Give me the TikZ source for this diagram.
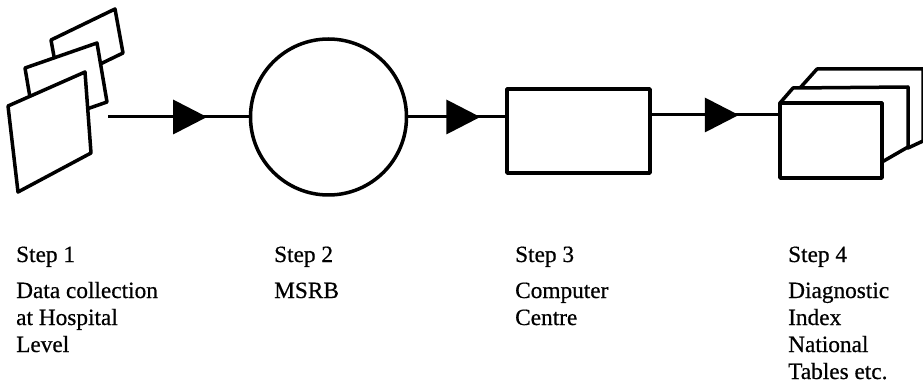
\documentclass[tikz,border=0pt]{standalone}
\usepackage{fontspec}
\setmainfont{Liberation Serif}[FakeBold=0.6]
\usetikzlibrary{decorations.markings}
% a block of lines 27pt apart, its baseline on the first line
\newcommand{\linesblock}[1]{\vtop{\baselineskip=27pt\lineskiplimit=-10pt #1}}
\begin{document}
\begin{tikzpicture}[x=1pt,y=-1pt,
  ink/.style={line width=3.5pt, line join=round},
  link/.style={line width=3pt,
    decoration={markings, mark=at position #1 with
      {\fill (-34pt,-17.5pt) -- (0pt,0pt) -- (-34pt,17.5pt) -- cycle;}},
    postaction={decorate}},
  lbl/.style={anchor=base west, inner sep=0pt, font=\fontsize{23.3}{27}\selectfont}]
\useasboundingbox (0,0) rectangle (923,382);

% step 1: stack of forms
\draw[ink, fill=white] (51,40) -- (115,9) -- (123,53) -- (59,84) -- cycle;
\draw[ink, fill=white] (25,68) -- (97,43) -- (107,102) -- (35,127) -- cycle;
\draw[ink, fill=white] (8,106) -- (85,72) -- (91,153) -- (18,192) -- cycle;
\coordinate (src) at (108,117);

% step 2: MSRB
\node[ink, draw, circle, minimum size=156pt, inner sep=0pt] (msrb) at (328.5,117) {};

% step 3: computer centre
\node[ink, draw, rectangle, minimum width=143pt, minimum height=84pt, inner sep=0pt]
  (cc) at (578.5,131) {};

% step 4: stack of output tables
\draw[ink, fill=white] (800,88) -- (817,69) -- (923,69) -- (923,141) -- (908,148) -- (908,88) -- cycle;
\draw[ink, fill=white] (780,103) -- (793,88) -- (908,87) -- (908,147) -- (882,162) -- (882,103) -- cycle;
\node[ink, draw, fill=white, rectangle, minimum width=102pt, minimum height=75pt, inner sep=0pt]
  (out) at (831,140.5) {};

% flow
\draw[link=99pt] (src) -- (msrb.west);
\draw[link=72pt] (msrb.east) -- ([yshift=14pt]cc.west);
\draw[link=87pt] ([yshift=16pt]cc.east) -- ([yshift=25.5pt]out.west);

% labels
\node[lbl] (s1) at (16,262) {Step 1};
\node[lbl] (d1) at (16,298) {\linesblock{\hbox{Data collection}\hbox{at Hospital}\hbox{Level}}};
\node[lbl] (s2) at (274,262) {Step 2};
\node[lbl] (d2) at (274,298) {MSRB};
\node[lbl] (s3) at (515,262) {Step 3};
\node[lbl] (d3) at (515,298) {\linesblock{\hbox{Computer}\hbox{Centre}}};
\node[lbl] (s4) at (788,262) {Step 4};
\node[lbl] (d4) at (788,298) {\linesblock{\hbox{Diagnostic}\hbox{Index}\hbox{National}\hbox{Tables etc.}}};
\end{tikzpicture}
\end{document}
